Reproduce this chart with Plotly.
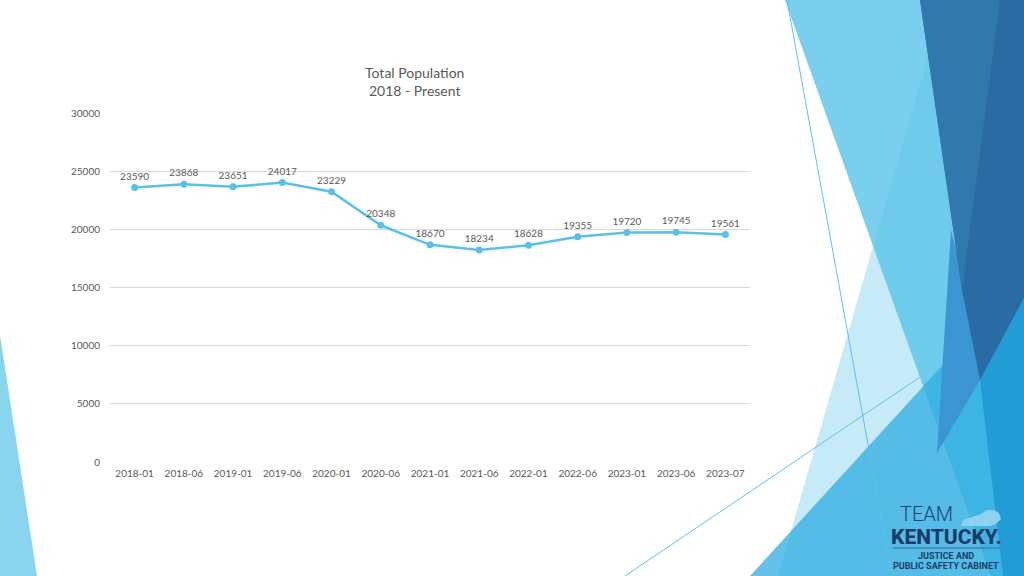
import plotly.graph_objects as go

# ---- data ----
categories = ["2018-01", "2018-06", "2019-01", "2019-06", "2020-01", "2020-06", "2021-01",
              "2021-06", "2022-01", "2022-06", "2023-01", "2023-06", "2023-07"]
population = [23590, 23868, 23651, 24017, 23229, 20348, 18670, 18234, 18628, 19355, 19720, 19745, 19561]
y_ticks = [0, 5000, 10000, 15000, 20000, 25000, 30000]

# ---- layout geometry (pixels) ----
W, H = 1024, 576
L, R, T, B = 110, 274, 113, 114
PW, PH = W - L - R, H - T - B
FONT = "Lato"
GRAY = "#595959"


def P(x, y):
    return ((x - L) / PW, (H - B - y) / PH)


def path(pts):
    s = ""
    for i, (x, y) in enumerate(pts):
        px, py = P(x, y)
        s += ("M" if i == 0 else "L") + f"{px:.5f},{py:.5f} "
    return s + "Z"


fig = go.Figure()
fig.add_trace(go.Scatter(
    x=categories, y=population,
    mode="lines+markers+text",
    line=dict(color="#5BC0E8", width=2.5),
    marker=dict(color="#5BC0E8", size=7),
    text=[str(v) for v in population],
    textposition="top center",
    textfont=dict(family=FONT, size=10, color="#595959"),
    cliponaxis=False,
    hoverinfo="x+y",
))

shapes = []
# decorative polygons
deco = [
    ([(0, 335), (37, 576), (0, 576)], "#8AD4F0"),
    ([(785, 0), (1024, 0), (1024, 576), (991, 576)], "#7ACFEF"),
    ([(944, 0), (1024, 0), (1024, 576), (778, 576)], "rgba(91,194,232,0.35)"),
    ([(750, 576), (1024, 576), (1024, 276)], "rgba(40,170,225,0.72)"),
    ([(980, 380), (1024, 298), (1024, 576), (1003, 576)], "#229CD4"),
    ([(951, 230), (966, 290), (980, 380), (937, 453)], "#3A95D2"),
    ([(920, 0), (1024, 0), (1024, 298), (980, 380), (962, 290)], "#2A6BA3"),
    ([(920, 0), (1000, 0), (962, 290)], "#3178AD"),
]
for pts, col in deco:
    shapes.append(dict(type="path", path=path(pts), xref="paper", yref="paper",
                       fillcolor=col, line=dict(width=0), layer="below"))
# thin lines
for (x0, y0), (x1, y1) in [((787, 0), (892, 576)), ((625, 576), (920, 377))]:
    a, b = P(x0, y0)
    c, d = P(x1, y1)
    shapes.append(dict(type="line", xref="paper", yref="paper", x0=a, y0=b, x1=c, y1=d,
                       line=dict(color="#5BC2E8", width=1), layer="below"))
# logo: Kentucky silhouette + rule
ky = [(961, 526), (963, 520), (969, 518), (975, 516), (981, 514), (987, 510), (994, 510),
      (999, 513), (1001, 519), (996, 524), (990, 526)]
shapes.append(dict(type="path", path=path(ky), xref="paper", yref="paper",
                   fillcolor="#8ED1F1", line=dict(width=0), layer="above"))
a, b = P(893, 548)
c, d = P(1000, 548)
shapes.append(dict(type="line", xref="paper", yref="paper", x0=a, y0=b, x1=c, y1=d,
                   line=dict(color="#4A7DA8", width=1.5), layer="above"))

annotations = []
tx, ty = P(414, 82)
annotations.append(dict(text="Total Population<br>2018 - Present", x=tx, y=ty, xref="paper", yref="paper",
                        showarrow=False, xanchor="center", yanchor="middle",
                        font=dict(family=FONT, size=14, color=GRAY)))
logo = [
    ("TEAM", 926, 514, 20, "#1F4270", 300),
    ("KENTUCKY.", 946, 537, 21, "#1B3C68", 800),
    ("JUSTICE AND", 946, 556, 9, "#1B3C68", 700),
    ("PUBLIC SAFETY CABINET", 946, 566, 9, "#1B3C68", 700),
]
for txt, x, y, sz, col, wt in logo:
    ax_, ay_ = P(x, y)
    annotations.append(dict(text=txt, x=ax_, y=ay_, xref="paper", yref="paper", showarrow=False,
                            xanchor="center", yanchor="middle", borderpad=0,
                            font=dict(family="Roboto", size=sz, color=col, weight=wt)))

fig.update_layout(
    width=W, height=H,
    margin=dict(l=L, r=R, t=T, b=B),
    paper_bgcolor="white", plot_bgcolor="rgba(0,0,0,0)",
    showlegend=False,
    shapes=shapes, annotations=annotations,
    font=dict(family=FONT, color=GRAY, size=10),
    xaxis=dict(type="category", range=[-0.5, len(categories) - 0.5], showgrid=False,
               showline=False, zeroline=False, ticks="", ticklabelstandoff=4,
               tickfont=dict(family=FONT, size=10, color=GRAY)),
    yaxis=dict(range=[0, 30000], tickvals=y_ticks, ticktext=[str(v) for v in y_ticks],
               showgrid=True, gridcolor="#D9D9D9", gridwidth=1, zeroline=False,
               showline=False, ticks="", ticklabelstandoff=9,
               tickfont=dict(family=FONT, size=10, color=GRAY)),
)

fig.write_html("out.html", config={"displayModeBar": False},
               post_script="document.body.style.margin='0';")
